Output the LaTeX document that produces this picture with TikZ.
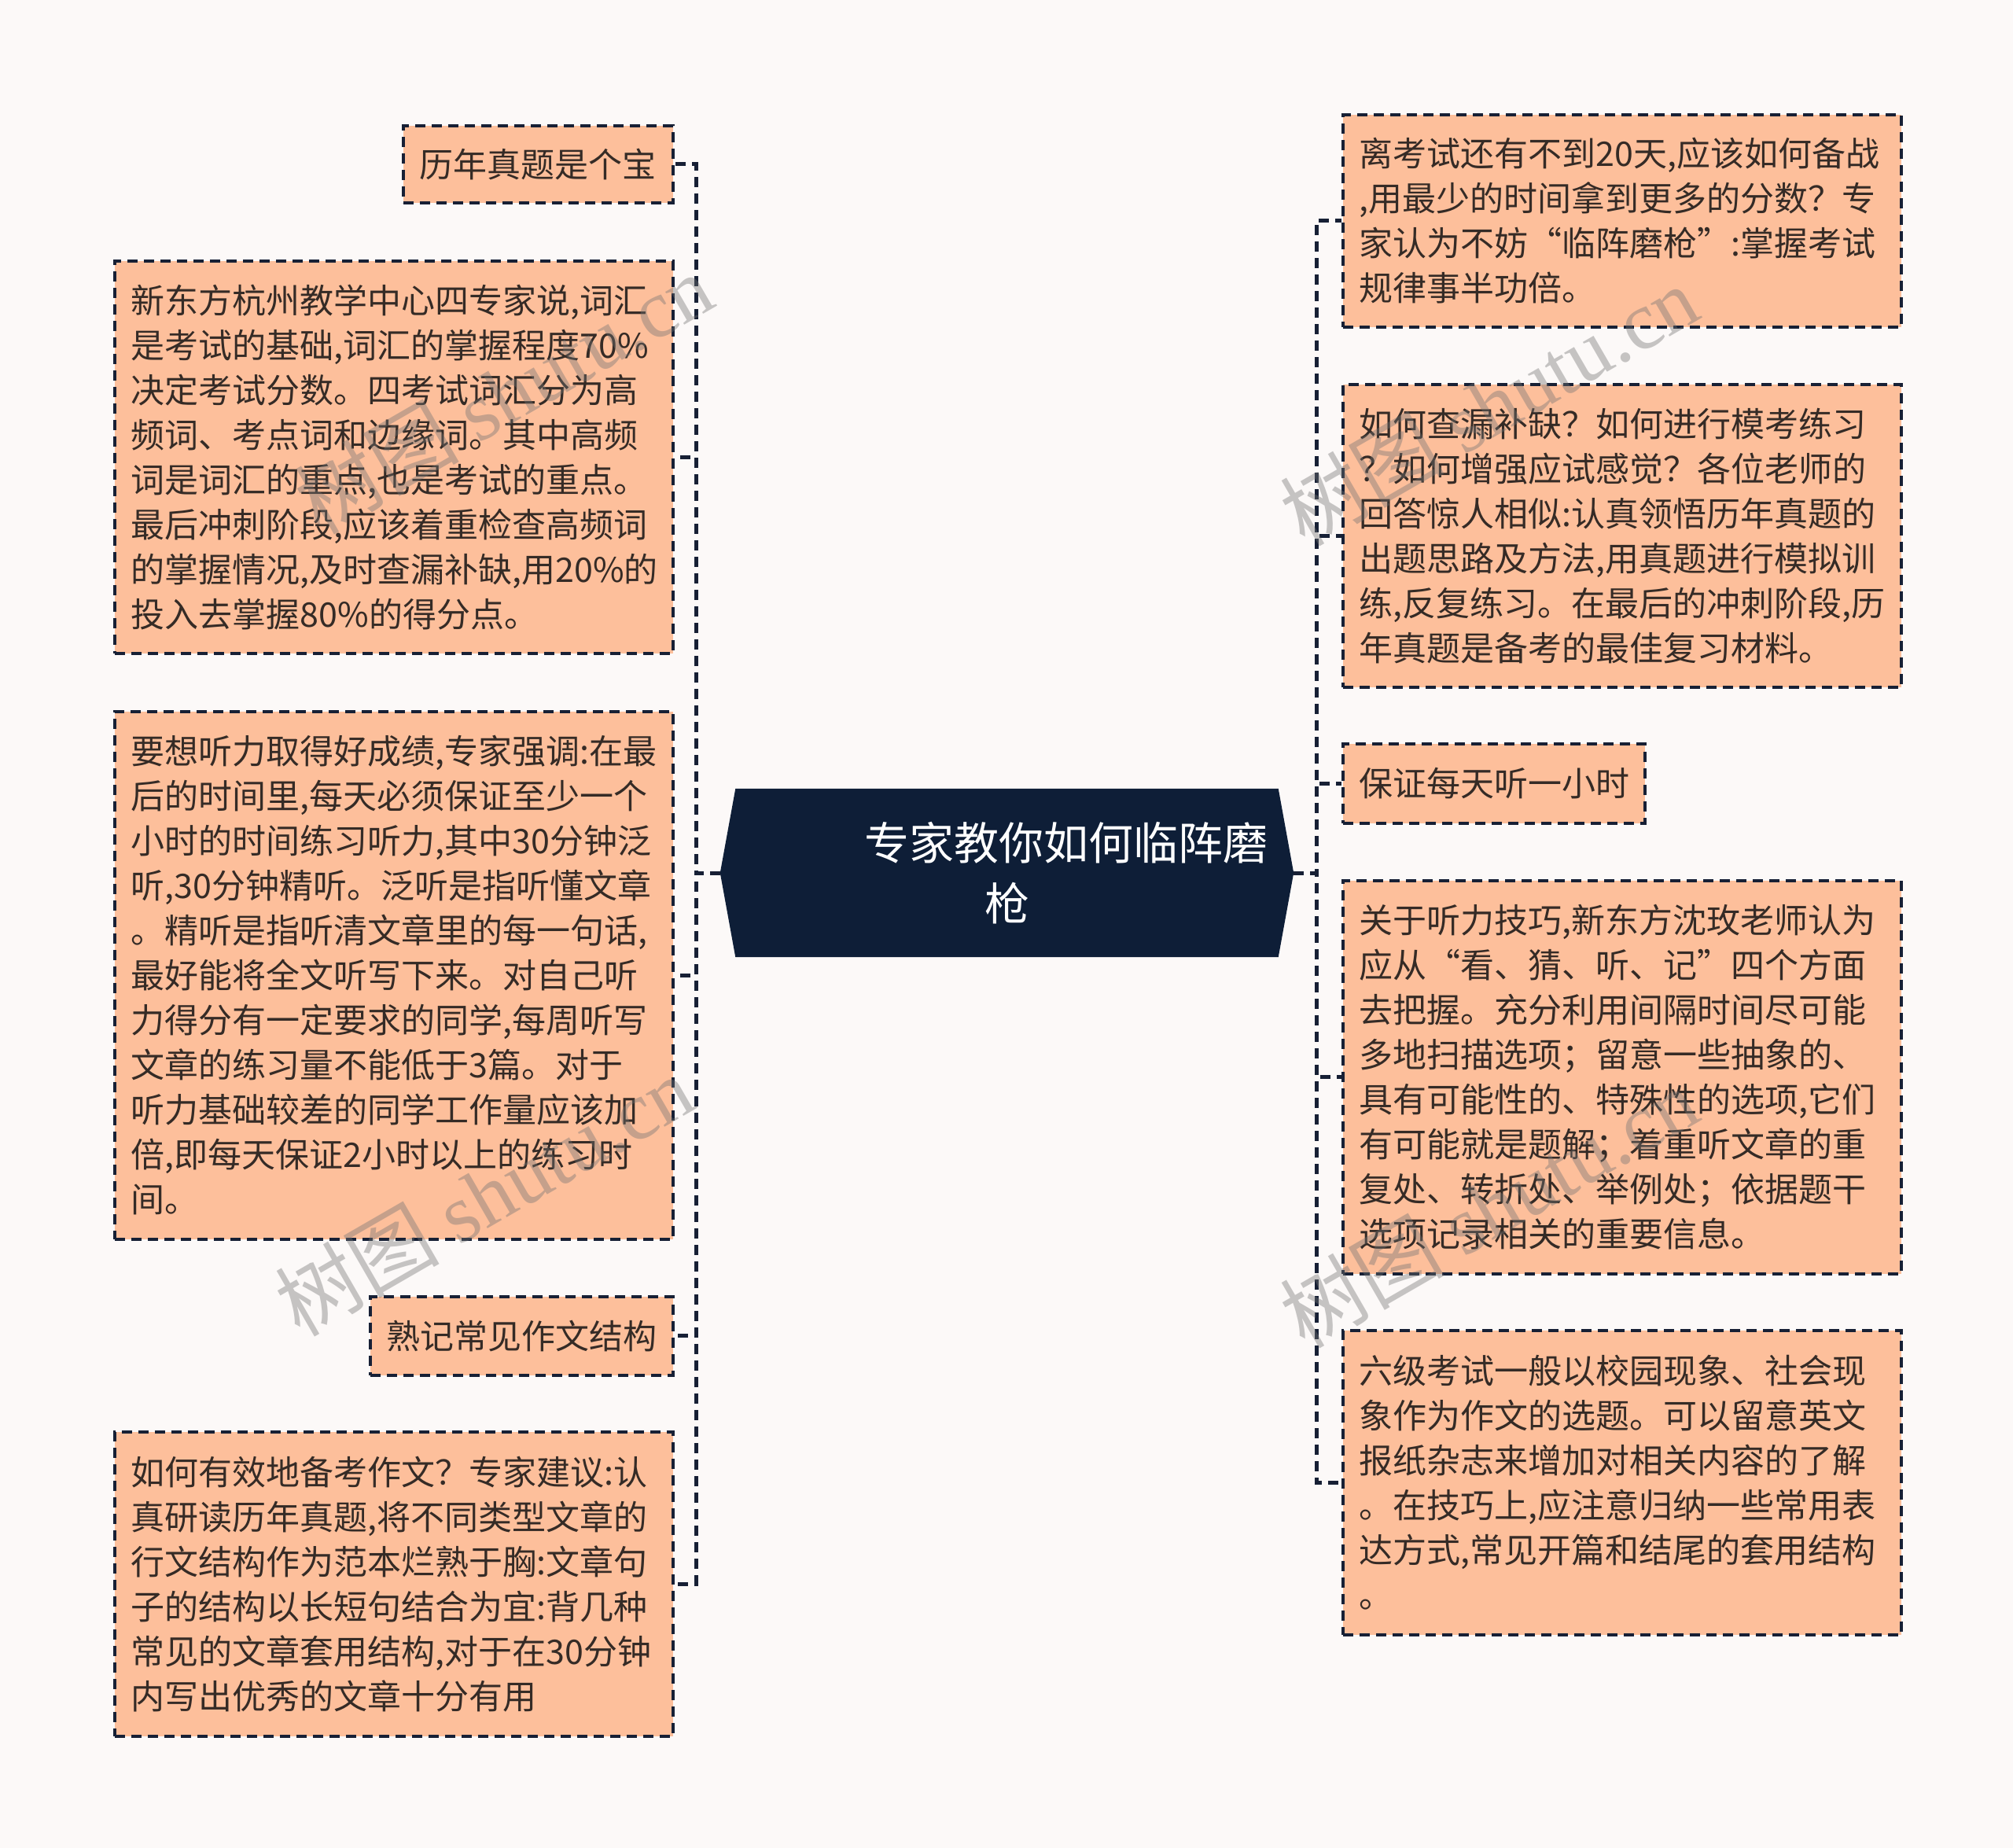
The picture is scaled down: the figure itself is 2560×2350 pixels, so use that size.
\documentclass[tikz,border=0pt]{standalone}
\usepackage{fontspec}
\setmainfont{Noto Sans CJK SC}
\newfontfamily\wmlat{Liberation Serif}
\usetikzlibrary{backgrounds}
\definecolor{bgc}{HTML}{FCF9F8}
\definecolor{peach}{HTML}{FDBF9B}
\definecolor{linec}{HTML}{172035}
\definecolor{navy}{HTML}{0E1E37}
\definecolor{txt}{HTML}{352B26}
\tikzset{
 leaf/.style={draw=linec, line width=3.5pt, dash pattern=on 13pt off 8pt, fill=peach,
   inner xsep=21pt, inner ysep=0pt, align=left, anchor=north west, text=txt,
   font=\fontsize{43}{57}\selectfont},
 conn/.style={draw=linec, line width=5pt, dash pattern=on 13pt off 8pt},
 wm/.style={text=black!55, opacity=0.4, rotate=30, inner sep=0pt,
   font=\fontsize{105}{110}\selectfont},
}
\begin{document}
\begin{tikzpicture}[x=1pt,y=-1pt]
\useasboundingbox (0,0) rectangle (2560,2350);
\clip (0,0) rectangle (2560,2350);

% central topic
\node (C) [minimum width=729pt, minimum height=214pt, inner sep=0pt, text=white,
  align=center, font=\fontsize{57}{77}\selectfont] at (1280.5,1110)
  {\hspace*{150pt}专家教你如何临阵磨\\枪};

% left leaves
\node[leaf, text width=301pt, minimum height=98pt] (L1) at (511,158) {历年真题是个宝};
\node[leaf, text width=668pt, minimum height=499pt] (L2) at (144,330) {新东方杭州教学中心四专家说,词汇\\是考试的基础,词汇的掌握程度70\%\\决定考试分数。四考试词汇分为高\\频词、考点词和边缘词。其中高频\\词是词汇的重点,也是考试的重点。\\最后冲刺阶段,应该着重检查高频词\\的掌握情况,及时查漏补缺,用20\%的\\投入去掌握80\%的得分点。};
\node[leaf, text width=668pt, minimum height=671pt] (L3) at (144,903) {要想听力取得好成绩,专家强调:在最\\后的时间里,每天必须保证至少一个\\小时的时间练习听力,其中30分钟泛\\听,30分钟精听。泛听是指听懂文章\\。精听是指听清文章里的每一句话,\\最好能将全文听写下来。对自己听\\力得分有一定要求的同学,每周听写\\文章的练习量不能低于3篇。对于\\听力基础较差的同学工作量应该加\\倍,即每天保证2小时以上的练习时\\间。};
\node[leaf, text width=343pt, minimum height=100pt] (L4) at (469,1647) {熟记常见作文结构};
\node[leaf, text width=668pt, minimum height=387pt] (L5) at (144,1819) {如何有效地备考作文？专家建议:认\\真研读历年真题,将不同类型文章的\\行文结构作为范本烂熟于胸:文章句\\子的结构以长短句结合为宜:背几种\\常见的文章套用结构,对于在30分钟\\内写出优秀的文章十分有用};

% right leaves
\node[leaf, text width=668pt, minimum height=270pt] (R1) at (1706,144) {离考试还有不到20天,应该如何备战\\,用最少的时间拿到更多的分数？专\\家认为不妨“临阵磨枪”:掌握考试\\规律事半功倍。};
\node[leaf, text width=668pt, minimum height=385pt] (R2) at (1706,487) {如何查漏补缺？如何进行模考练习\\？如何增强应试感觉？各位老师的\\回答惊人相似:认真领悟历年真题的\\出题思路及方法,用真题进行模拟训\\练,反复练习。在最后的冲刺阶段,历\\年真题是备考的最佳复习材料。};
\node[leaf, text width=342pt, minimum height=101pt] (R3) at (1706,944) {保证每天听一小时};
\node[leaf, text width=668pt, minimum height=500pt] (R4) at (1706,1118) {关于听力技巧,新东方沈玫老师认为\\应从“看、猜、听、记”四个方面\\去把握。充分利用间隔时间尽可能\\多地扫描选项；留意一些抽象的、\\具有可能性的、特殊性的选项,它们\\有可能就是题解；着重听文章的重\\复处、转折处、举例处；依据题干\\选项记录相关的重要信息。};
\node[leaf, text width=668pt, minimum height=387pt] (R5) at (1706,1690) {六级考试一般以校园现象、社会现\\象作为作文的选题。可以留意英文\\报纸杂志来增加对相关内容的了解\\。在技巧上,应注意归纳一些常用表\\达方式,常见开篇和结尾的套用结构\\。};

% connectors
\coordinate (LJ) at (885,1110);
\coordinate (RJ) at (1674,1110);
\foreach \n in {L1,L2,L3,L4,L5} \draw[conn] (C.west) -- (LJ) |- (\n.east);
\foreach \n in {R1,R2,R3,R4,R5} \draw[conn] (C.east) -- (RJ) |- (\n.west);

% background and hexagon
\begin{scope}[on background layer]
\fill[bgc] (0,0) rectangle (2560,2350);
\fill[navy] (C.west) -- ([xshift=19.5pt]C.north west) -- ([xshift=-19.5pt]C.north east)
  -- (C.east) -- ([xshift=-19.5pt]C.south east) -- ([xshift=19.5pt]C.south west) -- cycle;
\end{scope}

% watermarks
\node[wm] (wm1) at (640,500) {树图 {\wmlat shutu.cn}};
\node[wm] (wm2) at (1893,515) {树图 {\wmlat shutu.cn}};
\node[wm] (wm3) at (615,1520) {树图 {\wmlat shutu.cn}};
\node[wm] (wm4) at (1893,1535) {树图 {\wmlat shutu.cn}};
\end{tikzpicture}
\end{document}
